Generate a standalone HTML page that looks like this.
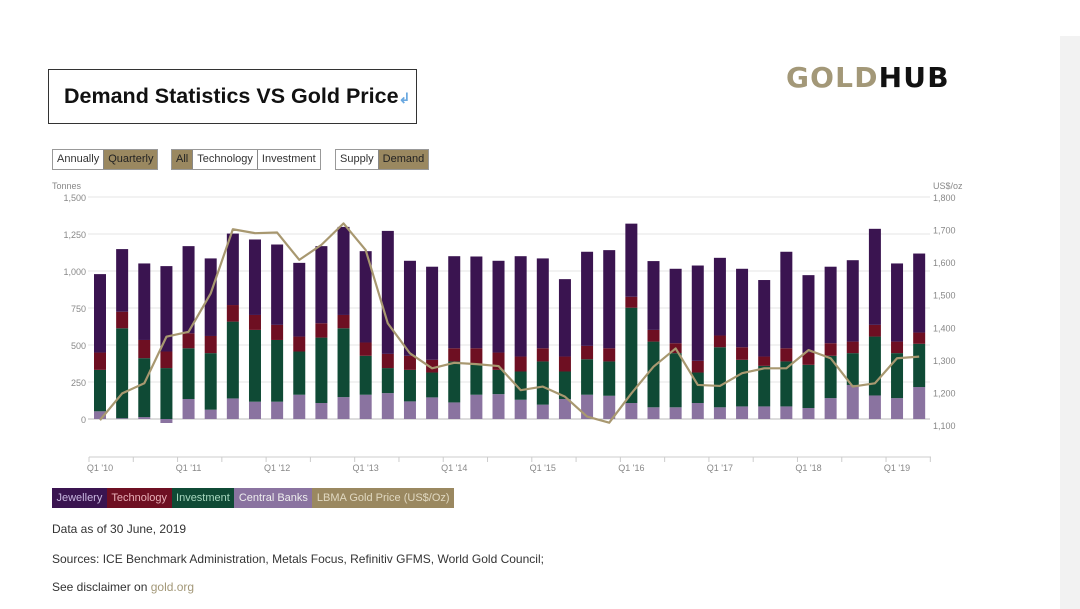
<!DOCTYPE html>
<html><head><meta charset="utf-8"><style>
body{margin:0;width:1080px;height:609px;background:#fff;position:relative;overflow:hidden;font-family:"Liberation Sans",sans-serif}
.abs{position:absolute}
.title{left:48px;top:69px;width:369px;height:55px;border:1.5px solid #333;box-sizing:border-box;font-weight:bold;font-size:21.5px;line-height:52px;padding-left:15px;color:#111}
.grp{display:flex;top:149px;height:21px;border:1px solid #999;box-sizing:border-box}
.grp span{font-size:11px;line-height:19px;padding:0 4px;color:#333;border-right:1px solid #888}
.grp span:last-child{border-right:none}
.grp .on{background:#9a8860;color:#222}
.leg{left:52px;top:488px;display:flex;height:20px}
.leg span{font-size:11px;line-height:20px;padding:0 4.5px}
.txt{font-size:12px;color:#333}
</style></head><body>
<div class="abs title">Demand Statistics VS Gold Price<span style="color:#6aa8e0;font-size:14px">↲</span></div>
<div class="abs" style="left:786px;top:61px;font-size:28px;letter-spacing:1.2px;font-weight:bold;font-family:'DejaVu Sans',sans-serif"><span style="color:#a39878">GOLD</span><span style="color:#111">HUB</span></div>
<div class="abs" style="left:1060px;top:36px;width:20px;height:573px;background:#f2f2f2"></div>
<div class="abs grp" style="left:52px"><span>Annually</span><span class="on">Quarterly</span></div>
<div class="abs grp" style="left:171px"><span class="on">All</span><span>Technology</span><span>Investment</span></div>
<div class="abs grp" style="left:335px"><span>Supply</span><span class="on">Demand</span></div>
<svg class="abs" style="left:0;top:0" width="1080" height="609" id="chart"></svg>
<div class="abs leg">
<span style="background:#3a1450;color:#c8b8e0">Jewellery</span>
<span style="background:#6e0f22;color:#e8b0b8">Technology</span>
<span style="background:#0f4a35;color:#a8d8c0">Investment</span>
<span style="background:#8a73a0;color:#eee">Central Banks</span>
<span style="background:#9a8860;color:#e0d8c0">LBMA Gold Price (US$/Oz)</span>
</div>
<div class="abs txt" style="left:52px;top:522px">Data as of 30 June, 2019</div>
<div class="abs txt" style="left:52px;top:552px">Sources: ICE Benchmark Administration, Metals Focus, Refinitiv GFMS, World Gold Council;</div>
<div class="abs txt" style="left:52px;top:580px">See disclaimer on <span style="color:#a39878">gold.org</span></div>
<script>
const jewellery=[530,423,517,577,589,524,483,510,543,498,521,595,617,831,642,629,622,620,620,678,607,523,636,663,494,465,503,644,525,530,517,652,523,517,550,649,528,534];
const technology=[117,112,123,112,101,116,112,101,102,101,97,90,90,96,95,86,89,112,117,101,89,101,90,89,74,79,67,79,79,85,63,89,83,85,78,79,78,76];
const investment=[280,608,398,344,343,382,519,485,417,292,442,465,263,169,213,168,277,202,164,191,292,186,240,232,644,444,366,206,406,315,274,304,292,286,215,398,304,292];
const centralBanks=[52,5,13,-27,135,63,139,117,117,164,108,148,164,175,119,146,112,164,168,130,97,135,164,157,108,79,79,108,79,85,85,85,74,141,230,159,141,216];
const goldPrice=[1115,1197,1228,1371,1386,1504,1701,1689,1691,1607,1653,1719,1637,1412,1320,1274,1291,1287,1281,1207,1218,1187,1126,1107,1197,1279,1335,1223,1220,1259,1274,1274,1330,1305,1218,1228,1305,1310];
const xLabels=["Q1 '10","Q1 '11","Q1 '12","Q1 '13","Q1 '14","Q1 '15","Q1 '16","Q1 '17","Q1 '18","Q1 '19"];
const leftTicks=[0,250,500,750,1000,1250,1500];
const rightTicks=[1100,1200,1300,1400,1500,1600,1700,1800];
const svg=document.getElementById('chart');const NS='http://www.w3.org/2000/svg';
const X=i=>100+i*22.14;const Y=v=>419-v*0.148;const YP=p=>425-(p-1100)*0.3257;
function mk(t,a,txt){const e=document.createElementNS(NS,t);for(const k in a)e.setAttribute(k,a[k]);if(txt!=null)e.textContent=txt;svg.appendChild(e);return e;}
leftTicks.forEach(v=>{const g=mk('line',{x1:88,x2:930,y1:Y(v),y2:Y(v),stroke:v===0?'#bbb':'#e6e6e6','stroke-width':1});


const t=mk('text',{x:86,y:Y(v)+4,'text-anchor':'end','font-size':9,fill:'#888'},v.toLocaleString('en-US'));

});
rightTicks.forEach(v=>{const t=mk('text',{x:933,y:YP(v)+4,'font-size':9,fill:'#888'},v.toLocaleString('en-US'));

});
let a=mk('text',{x:52,y:189,'font-size':9,fill:'#888'},'Tonnes');
a=mk('text',{x:933,y:189,'font-size':9,fill:'#888'},'US$/oz');
const ax=mk('line',{x1:89,x2:931,y1:457,y2:457,stroke:'#ccc','stroke-width':1});


for(let i=0;i<=38;i+=2){mk('line',{x1:X(i)-11,x2:X(i)-11,y1:457,y2:462,stroke:'#ccc'});}
xLabels.forEach((l,k)=>{const t=mk('text',{x:X(k*4),y:471,'text-anchor':'middle','font-size':9,fill:'#888'},l);

});
const cols=['#8a73a0','#0f4a35','#6e0f22','#3a1450'];
jewellery.forEach((_,i)=>{const vals=[centralBanks[i],investment[i],technology[i],jewellery[i]];let base=0;
vals.forEach((v,s)=>{let y0,y1;if(v<0){y0=0;y1=v;}else{y0=base;y1=base+v;base=y1;}
const r=mk('rect',{x:X(i)-6,width:12,y:Math.min(Y(y0),Y(y1)),height:Math.abs(Y(y0)-Y(y1)),fill:cols[s]});

});});
const pl=mk('polyline',{points:goldPrice.map((p,i)=>X(i)+','+YP(p)).join(' '),fill:'none',stroke:'#a89870','stroke-width':2.2,'stroke-linejoin':'round'});


</script>
</body></html>
